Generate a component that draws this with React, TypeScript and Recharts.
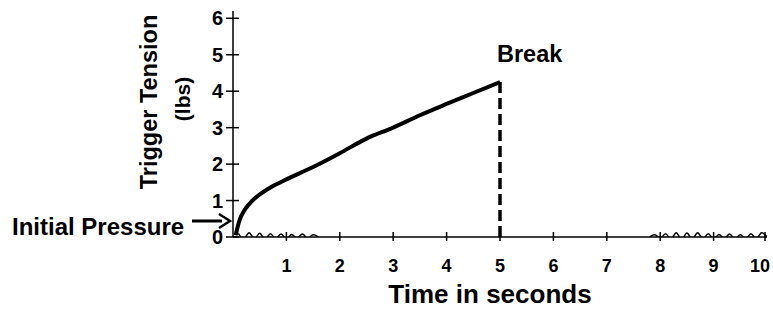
import { LineChart, Line, XAxis, YAxis } from 'recharts';

// trigger tension as the trigger is squeezed (seconds, lbs)
const pullTimes = [0.05, 0.12, 0.2, 0.3, 0.4, 0.55, 0.75, 1, 1.5, 2, 2.5, 3, 3.5, 4, 4.5, 5];
const pullTension = [0.05, 0.45, 0.7, 0.9, 1.05, 1.22, 1.4, 1.58, 1.92, 2.3, 2.7, 3.0, 3.34, 3.65, 3.95, 4.25];

// drop at the break
const breakTimes = [5, 5];
const breakTension = [4.25, 0];

// jitter of the pen along the baseline
const jitterTimes = [0.1, 0.2, 0.3, 0.4, 0.5, 0.6, 0.7, 0.8, 0.9, 1.0, 1.1, 1.2, 1.3, 1.4, 1.5, 1.6];
const jitterValues = [0.1, -0.06, 0.12, -0.05, 0.1, -0.07, 0.09, -0.04, 0.08, -0.05, 0.07, -0.03, 0.08, -0.04, 0.06, 0];
const jitterTimes2 = [7.8, 7.9, 8.0, 8.1, 8.2, 8.3, 8.4, 8.5, 8.6, 8.7, 8.8, 8.9, 9.0, 9.1, 9.2, 9.3, 9.4, 9.5, 9.6, 9.7, 9.8, 9.9, 10];
const jitterValues2 = [0, 0.06, -0.04, 0.09, -0.06, 0.12, -0.07, 0.11, -0.06, 0.12, -0.05, 0.09, -0.06, 0.07, -0.04, 0.08, -0.05, 0.06, -0.06, 0.09, -0.05, 0.12, 0];

const xTicks = [1, 2, 3, 4, 5, 6, 7, 8, 9, 10];
const yTicks = [0, 1, 2, 3, 4, 5, 6];

const pull = pullTimes.map((t, i) => ({ t, v: pullTension[i] }));
const drop = breakTimes.map((t, i) => ({ t, v: breakTension[i] }));
const jitter = jitterTimes.map((t, i) => ({ t, v: jitterValues[i] }));
const jitter2 = jitterTimes2.map((t, i) => ({ t, v: jitterValues2[i] }));

const FONT = '"Liberation Sans", Arial, sans-serif';

function YTick(props: any) {
  const { x, y, payload } = props;
  return (
    <g>
      <line x1={x - 7} x2={x + 6} y1={y} y2={y} stroke="#000" strokeWidth={1.5} />
      <text x={x - 10} y={y + 7} textAnchor="end" fontFamily={FONT} fontWeight="bold" fontSize={20} fill="#000">
        {payload.value}
      </text>
    </g>
  );
}

function XTick(props: any) {
  const { x, y, payload } = props;
  // last label sits at the right edge, keep it inside the picture
  const last = payload.value === xTicks[xTicks.length - 1];
  return (
    <g>
      <line x1={x} x2={x} y1={y - 5} y2={y + 4} stroke="#000" strokeWidth={1.5} />
      <text
        x={last ? x + 5 : x}
        y={y + 35}
        textAnchor={last ? 'end' : 'middle'}
        fontFamily={FONT}
        fontWeight="bold"
        fontSize={18}
        fill="#000"
      >
        {payload.value}
      </text>
    </g>
  );
}

export default function App() {
  return (
    <div style={{ position: 'absolute', left: 0, top: 0, width: 773, height: 310, background: '#fff' }}>
      <LineChart width={773} height={310} margin={{ top: 11, right: 6, left: 0, bottom: 0 }}>
        <XAxis
          type="number"
          dataKey="t"
          domain={[0, 10]}
          ticks={xTicks}
          allowDataOverflow
          height={73}
          tickSize={0}
          tickMargin={0}
          tickLine={false}
          axisLine={{ stroke: '#000', strokeWidth: 1.5 }}
          tick={<XTick />}
        />
        <YAxis
          type="number"
          domain={[0, 6.2]}
          ticks={yTicks}
          allowDataOverflow
          width={233}
          tickSize={0}
          tickMargin={0}
          tickLine={false}
          axisLine={{ stroke: '#000', strokeWidth: 1.5 }}
          tick={<YTick />}
        />
        <Line data={jitter} dataKey="v" type="monotone" stroke="#000" strokeWidth={1.5} dot={false} isAnimationActive={false} />
        <Line data={jitter2} dataKey="v" type="monotone" stroke="#000" strokeWidth={1.5} dot={false} isAnimationActive={false} />
        <Line data={pull} dataKey="v" type="monotone" stroke="#000" strokeWidth={4} dot={false} isAnimationActive={false} />
        <Line data={drop} dataKey="v" type="linear" stroke="#000" strokeWidth={3.5} strokeDasharray="11 5" dot={false} isAnimationActive={false} />
      </LineChart>
      <svg width={773} height={310} style={{ position: 'absolute', left: 0, top: 0, pointerEvents: 'none' }}>
        <g fontFamily={FONT} fontWeight="bold" fill="#000">
          <text transform="translate(157,102) rotate(-90)" textAnchor="middle" fontSize={23.5}>
            Trigger Tension
          </text>
          <text transform="translate(190,99) rotate(-90)" textAnchor="middle" fontSize={21}>
            (lbs)
          </text>
          <text x={12} y={235} fontSize={24}>Initial Pressure</text>
          <text x={497} y={62} fontSize={23.5}>Break</text>
          <text x={490} y={303} textAnchor="middle" fontSize={26}>
            Time in seconds
          </text>
        </g>
        <line x1={192} x2={222} y1={221} y2={221} stroke="#000" strokeWidth={3} />
        <path d="M219,214 L230,221 L219,228" fill="none" stroke="#000" strokeWidth={2.5} />
      </svg>
    </div>
  );
}
